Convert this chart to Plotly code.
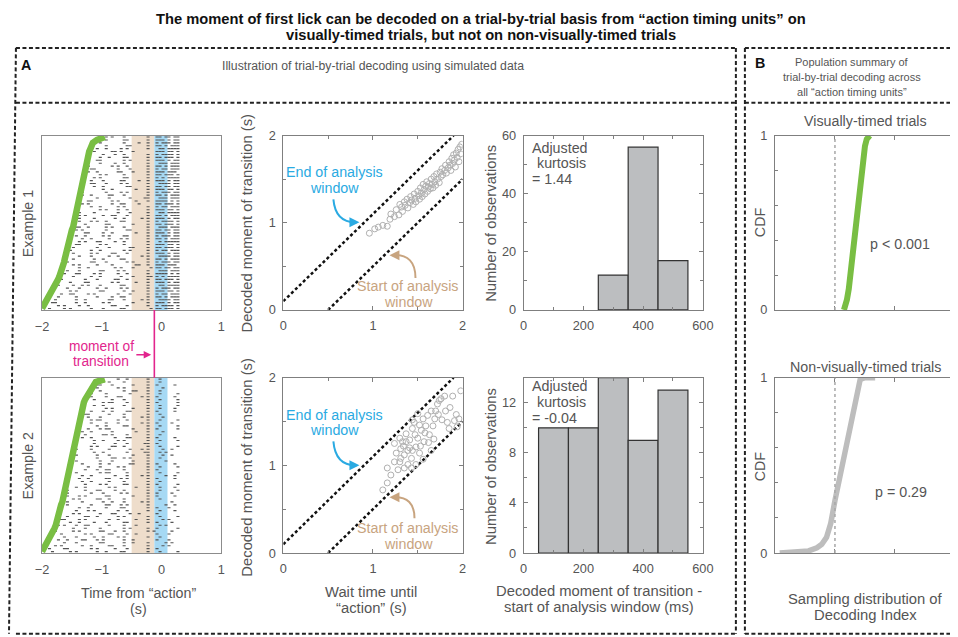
import plotly.graph_objects as go

W, H = 958, 637
# the photographed page shows the figure slightly reduced and shifted; positions below are
# given in picture pixels and mapped back into figure space
SC, X0, Y0 = 0.98, 14.0, 13.0
FONT = "Liberation Sans, Arial, Helvetica, sans-serif"
TXT = "#555555"
AX = "#7f7f7f"
GREEN = "#79BE43"
CYAN = "#2AAAE2"
TAN = "#C8A47F"
MAGENTA = "#E2258D"

# ------------------------------------------------------------------ data
transition_time = -0.12      # s, moment of transition (raster)
window_start = -0.5          # s, start of analysis window
window_end = 0.1             # s, end of analysis window
raster_t0 = -2.0
raster_bin = 0.05
ex1_sparse_bins = 38         # bins up to transition region
ex2_bins = 46                # bins up to 0.3 s

# trial onsets (green curve), bottom row first
ex1_onsets = [-2.00, -1.97, -1.94, -1.91, -1.88, -1.85, -1.82, -1.79, -1.77, -1.75,
              -1.73, -1.71, -1.69, -1.68, -1.66, -1.65, -1.63, -1.62, -1.61, -1.59,
              -1.58, -1.57, -1.56, -1.55, -1.53, -1.52, -1.51, -1.50, -1.48, -1.47,
              -1.46, -1.45, -1.44, -1.43, -1.43, -1.42, -1.41, -1.40, -1.39, -1.38,
              -1.37, -1.36, -1.35, -1.34, -1.32, -1.31, -1.30, -1.29, -1.28, -1.27,
              -1.26, -1.25, -1.24, -1.23, -1.21, -1.19, -1.17, -1.15, -1.08, -0.95]
ex2_onsets = [-2.00, -1.97, -1.94, -1.91, -1.88, -1.85, -1.83, -1.81, -1.79, -1.77,
              -1.76, -1.74, -1.73, -1.71, -1.70, -1.69, -1.68, -1.66, -1.65, -1.64,
              -1.63, -1.62, -1.61, -1.60, -1.59, -1.58, -1.57, -1.56, -1.55, -1.54,
              -1.53, -1.52, -1.51, -1.50, -1.49, -1.48, -1.47, -1.46, -1.45, -1.44,
              -1.43, -1.42, -1.41, -1.40, -1.39, -1.38, -1.37, -1.36, -1.35, -1.34,
              -1.32, -1.30, -1.28, -1.25, -1.23, -1.20, -1.17, -1.14, -1.10, -0.95]

# spike trains: each digit = gap (in bins) to the next spike
ex1_sparse_gaps = [
    "35274619", "62538147", "41736285", "57381462", "24675318", "73152846",
    "46281735", "18463527", "65324718", "37518264", "52846137", "29637451",
    "84152637", "36471528", "51739246", "47265813", "63814725", "25473618",
    "71546382", "38625147", "54173826", "26384715", "43517268", "67241538",
    "15836427", "48362517", "62715384", "34528716", "57136248", "23647185",
    "76423518", "41857362", "58263147", "32715846", "65182437", "17453628",
    "44628315", "53817264", "28364751", "72536148", "36148527", "51627384",
    "45273816", "68314527", "27846153", "53462817", "14735268", "62837145",
    "37251846", "46518237", "21674538", "75341826", "42863517", "56127438",
    "33756124", "61483527", "24358716", "47126853", "58342617", "35617248"]
# dense firing after the transition (bins -0.1 .. 0.3 s), x = spike
ex1_dense_bins = [
    "xx.xxx.x", "x.xxxx.x", "xxx.x.xx", ".xxxx.xx", "xx.x.xxx", "x.xx.xxx",
    "xxx.xx.x", "x.xxx.xx", ".xx.xxxx", "xxx.x.xx", "xx.xxx.x", "x.x.xxxx",
    "xxxx.x.x", ".xxx.xxx", "xx.xx.xx", "xxx.xxx.", "x.xxx.xx", "xx.x.xxx",
    ".xxxx.xx", "xxx.x.xx", "x.xx.xxx", "xx.xxx.x", "xxx.xx.x", ".x.xxxxx",
    "xx.x.xxx", "x.xxx.xx", "xxx.x.xx", "xx.xx.xx", ".xxx.xxx", "xx.xxx.x",
    "x.xxxx.x", "xxx.x.xx", "xx.x.xxx", ".xx.xxxx", "xxx.xx.x", "x.xx.xxx",
    "xx.xxx.x", "xxxx.x.x", ".xxx.xxx", "xx.x.xxx", "x.xxx.xx", "xxx.xx.x",
    "xx.xx.xx", ".xxxx.xx", "xxx.x.xx", "x.x.xxxx", "xx.xxx.x", "xxx.xxx.",
    "x.xx.xxx", "xx.x.xxx", ".xxx.xxx", "xxx.x.xx", "xx.xxx.x", "x.xxxx.x",
    "xxx.xx.x", ".xx.xxxx", "xx.x.xxx", "x.xxx.xx", "xxx.x.xx", "xx.xx.xx"]
ex2_gaps = [
    "4627351846", "3518264739", "5273614852", "2648173562", "6351427384",
    "1746352847", "4382615374", "5627143826", "3174582637", "6243175482",
    "2835461735", "7152836452", "4561372846", "3827415368", "5164283745",
    "2473651834", "6385142763", "1857346284", "4726135847", "3642718536",
    "5318462735", "2764153846", "6153827445", "3485261737", "4217365848",
    "5836142736", "1673845263", "4358216746", "7264315838", "3517462846",
    "2846371536", "6132847565", "4785132647", "3261748553", "5427386142",
    "1835674253", "6472513846", "2358746138", "4617352846", "5273841636",
    "3846125747", "2165378456", "6734218537", "4528361746", "1376548235",
    "5842163746", "3157486256", "6423175847", "2784351636", "4316827545",
    "5261437846", "3648215737", "1527364846", "6385417236", "4213758646",
    "2756831447", "5134672856", "3862147536", "4671325848", "2548163747"]

# decoded moment vs wait time
sc1_wait = [0.96, 1.02, 1.06, 1.11, 1.16, 1.19, 1.20, 1.24, 1.26, 1.29, 1.30, 1.32, 1.33,
            1.35, 1.36, 1.38, 1.39, 1.41, 1.42, 1.43, 1.45, 1.46, 1.47, 1.48, 1.50, 1.51,
            1.52, 1.53, 1.54, 1.55, 1.56, 1.57, 1.58, 1.59, 1.60, 1.61, 1.62, 1.63, 1.64,
            1.65, 1.66, 1.67, 1.68, 1.69, 1.70, 1.71, 1.72, 1.74, 1.75, 1.76, 1.77, 1.78,
            1.80, 1.81, 1.82, 1.84, 1.85, 1.86, 1.87, 1.88, 1.89, 1.90, 1.91, 1.92, 1.93,
            1.94, 1.95, 1.96, 1.97, 1.98, 1.99]
sc1_decoded = [0.88, 0.93, 0.95, 0.97, 0.96, 1.04, 1.10, 1.07, 1.15, 1.09, 1.21, 1.18, 1.13,
               1.24, 1.20, 1.27, 1.17, 1.23, 1.30, 1.26, 1.21, 1.33, 1.28, 1.24, 1.36, 1.31,
               1.27, 1.40, 1.34, 1.30, 1.44, 1.38, 1.33, 1.42, 1.47, 1.36, 1.41, 1.45, 1.39,
               1.50, 1.44, 1.40, 1.53, 1.47, 1.43, 1.56, 1.50, 1.46, 1.58, 1.53, 1.62, 1.55,
               1.60, 1.66, 1.57, 1.63, 1.70, 1.66, 1.60, 1.74, 1.68, 1.78, 1.72, 1.64, 1.80,
               1.75, 1.84, 1.70, 1.87, 1.79, 1.90]
sc2_wait = [1.11, 1.16, 1.16, 1.20, 1.24, 1.28, 1.26, 1.31, 1.30, 1.35, 1.33, 1.37, 1.39,
            1.43, 1.41, 1.44, 1.46, 1.48, 1.50, 1.52, 1.54, 1.56, 1.57, 1.59, 1.61, 1.63,
            1.65, 1.67, 1.69, 1.70, 1.72, 1.74, 1.76, 1.80, 1.81, 1.83, 1.85, 1.89, 1.91,
            1.94, 1.98, 1.93, 1.65, 1.50, 1.44, 1.37, 1.30, 1.24, 1.44, 1.35, 1.56, 1.48,
            1.43, 1.39, 1.31, 1.52, 1.58, 1.62, 1.47, 1.41, 1.34, 1.53, 1.77, 1.73, 1.86,
            1.96, 1.68]
sc2_decoded = [0.72, 0.80, 0.97, 0.89, 1.04, 0.95, 1.14, 1.19, 1.04, 0.97, 1.27, 1.36, 1.17,
               1.08, 1.29, 1.42, 1.49, 1.21, 1.31, 1.14, 1.40, 1.53, 1.27, 1.45, 1.57, 1.35,
               1.17, 1.45, 1.53, 1.62, 1.70, 1.74, 1.76, 1.79, 1.62, 1.49, 1.42, 1.79, 1.51,
               1.44, 1.85, 1.58, 1.62, 1.59, 1.52, 1.27, 1.31, 1.25, 1.17, 1.12, 1.07, 1.01,
               0.97, 1.01, 1.08, 1.46, 1.37, 1.26, 1.35, 1.20, 1.22, 1.22, 1.52, 1.58, 1.66,
               1.53, 1.30]

# histograms (ms from start of window)
hist_bin_width = 100
hist1_centers = [300, 400, 500]
hist1_counts = [12, 56, 17]
hist2_centers = [100, 200, 300, 400, 500]
hist2_counts = [10, 10, 14, 9, 13]
kurtosis = ["1.44", "-0.04"]

# population CDFs of decoding index
cdf_vis_x = [1.15, 1.17, 1.20, 1.23, 1.255, 1.29, 1.32, 1.35, 1.38, 1.41, 1.44, 1.47, 1.50, 1.53, 1.58]
cdf_vis_y = [0, 0.02, 0.06, 0.12, 0.2, 0.3, 0.4, 0.5, 0.6, 0.7, 0.8, 0.88, 0.94, 0.98, 1.0]
cdf_non_x = [0.08, 0.3, 0.56, 0.70, 0.78, 0.86, 0.93, 1.0, 1.06, 1.12, 1.2, 1.28, 1.33, 1.37, 1.42, 1.5, 1.67]
cdf_non_y = [0, 0.005, 0.012, 0.03, 0.05, 0.09, 0.17, 0.3, 0.4, 0.5, 0.62, 0.78, 0.87, 0.94, 0.99, 1.0, 1.0]
chance_index = 1.0
p_values = ["p < 0.001", "p = 0.29"]


# ------------------------------------------------------------------ helpers
def fx(p):
    return ((p - X0) / SC) / W


def fy(p):
    return 1 - ((p - Y0) / SC) / H


def fs(s):
    return s / SC


def clamp(v):
    return max(0.0, min(1.0, v))


def sid(n):
    return "" if n == 1 else str(n)


def raster_points(onsets, gaps, n_bins, dense=None):
    xs, ys = [], []
    for i, onset in enumerate(onsets):
        pos = -1
        for d in gaps[i]:
            pos += int(d)
            if pos >= n_bins:
                break
            t = raster_t0 + raster_bin * pos + raster_bin / 2
            if t > onset:
                xs.append(t)
                ys.append(i + 0.5)
        if dense is not None:
            for k, c in enumerate(dense[i]):
                if c == "x":
                    xs.append(raster_t0 + raster_bin * (n_bins + k) + raster_bin / 2)
                    ys.append(i + 0.5)
    return xs, ys


fig = go.Figure()

# rasters
r1x, r1y = raster_points(ex1_onsets, ex1_sparse_gaps, ex1_sparse_bins, ex1_dense_bins)
r2x, r2y = raster_points(ex2_onsets, ex2_gaps, ex2_bins)
for n, (rx, ry, ons) in enumerate([(r1x, r1y, ex1_onsets), (r2x, r2y, ex2_onsets)], start=1):
    fig.add_trace(go.Scatter(x=rx, y=ry, mode="markers", xaxis="x" + sid(n), yaxis="y" + sid(n),
                             marker=dict(symbol="line-ew", size=2.2,
                                         line=dict(width=1.1, color="#555555"))))
    fig.add_trace(go.Scatter(x=ons, y=[i + 0.5 for i in range(len(ons))], mode="lines",
                             xaxis="x" + sid(n), yaxis="y" + sid(n), cliponaxis=False,
                             line=dict(color=GREEN, width=6.5)))

# scatters with analysis-window lines
for n, (wx, dy) in zip([3, 4], [(sc1_wait, sc1_decoded), (sc2_wait, sc2_decoded)]):
    fig.add_trace(go.Scatter(x=[0, 2 - window_end], y=[window_end, 2], mode="lines",
                             xaxis=f"x{n}", yaxis=f"y{n}",
                             line=dict(color="#111111", width=2.5, dash="3px,2.5px")))
    fig.add_trace(go.Scatter(x=[-window_start, 2], y=[0, 2 + window_start], mode="lines",
                             xaxis=f"x{n}", yaxis=f"y{n}",
                             line=dict(color="#111111", width=2.5, dash="3px,2.5px")))
    fig.add_trace(go.Scatter(x=wx, y=dy, mode="markers", xaxis=f"x{n}", yaxis=f"y{n}",
                             marker=dict(symbol="circle-open", size=6,
                                         color="#b0b0b0", line=dict(width=1))))

# histograms
for n, (cx, cnt) in zip([5, 6], [(hist1_centers, hist1_counts), (hist2_centers, hist2_counts)]):
    fig.add_trace(go.Bar(x=cx, y=cnt, width=[hist_bin_width] * len(cx),
                         xaxis=f"x{n}", yaxis=f"y{n}",
                         marker=dict(color="#BCBEC0", line=dict(color="#333333", width=1.2))))

# CDFs
fig.add_trace(go.Scatter(x=cdf_vis_x, y=cdf_vis_y, mode="lines", xaxis="x7", yaxis="y7",
                         cliponaxis=False, line=dict(color=GREEN, width=6)))
fig.add_trace(go.Scatter(x=cdf_non_x, y=cdf_non_y, mode="lines", xaxis="x8", yaxis="y8",
                         cliponaxis=False, line=dict(color="#BDBDBD", width=5.5)))

# ------------------------------------------------------------------ axes
ROW1 = (133, 308)
ROW2 = (376, 552)
COLS = {"r": (41, 220), "s": (282, 461), "h": (522, 701), "c": (773, 953)}


def axis(dom, rng, horizontal, **kw):
    if horizontal:
        d = [clamp(fx(dom[0])), clamp(fx(dom[1]))]
    else:
        d = [clamp(fy(dom[1])), clamp(fy(dom[0]))]
    base = dict(domain=d, range=rng, showline=True, linecolor=AX, linewidth=1,
                mirror="ticks", ticks="inside", ticklen=4, tickcolor=AX,
                tickfont=dict(family=FONT, size=fs(12.5), color=TXT), showgrid=False,
                zeroline=False, fixedrange=True)
    base.update(kw)
    return base


def minor(dt):
    return dict(dtick=dt, ticks="inside", ticklen=3, tickcolor=AX, showgrid=False)


layout_axes = {}
for n, row in [(1, ROW1), (2, ROW2)]:
    layout_axes["xaxis" + sid(n)] = axis(COLS["r"], [-2, 1], True, anchor="y" + sid(n),
                                         tickvals=[-2, -1, 0, 1], ticks="", mirror=True,
                                         linecolor="#8c8c8c", ticklabelstandoff=5)
    layout_axes["yaxis" + sid(n)] = axis(row, [0, len(ex1_onsets)], False, anchor="x" + sid(n),
                                         showticklabels=False, ticks="", mirror=True,
                                         linecolor="#8c8c8c")
for n, row in [(3, ROW1), (4, ROW2)]:
    layout_axes[f"xaxis{n}"] = axis(COLS["s"], [0, 2], True, anchor=f"y{n}",
                                    dtick=1, minor=minor(0.5), ticklabelstandoff=4)
    layout_axes[f"yaxis{n}"] = axis(row, [0, 2], False, anchor=f"x{n}",
                                    dtick=1, minor=minor(0.5), ticklabelstandoff=4)
for n, row, yr, yt in [(5, ROW1, [0, 60], [0, 20, 40, 60]), (6, ROW2, [0, 14], [0, 4, 8, 12])]:
    layout_axes[f"xaxis{n}"] = axis(COLS["h"], [0, 600], True, anchor=f"y{n}",
                                    tickvals=[0, 200, 400, 600], minor=minor(100),
                                    ticklabelstandoff=4)
    layout_axes[f"yaxis{n}"] = axis(row, yr, False, anchor=f"x{n}", tickvals=yt,
                                    minor=minor(yt[1] / 2), ticklabelstandoff=4)
for n, row in [(7, ROW1), (8, ROW2)]:
    layout_axes[f"xaxis{n}"] = axis(COLS["c"], [0, 3], True, anchor=f"y{n}",
                                    tickvals=[1, 2], showticklabels=False)
    layout_axes[f"yaxis{n}"] = axis(row, [0, 1], False, anchor=f"x{n}", tickvals=[0, 1],
                                    minor=minor(0.2), ticklabelstandoff=4)

# ------------------------------------------------------------------ shapes
shapes = []
DASH = dict(color="#222222", width=2, dash="4px,2.5px")


def pline(x0, y0, x1, y1):
    shapes.append(dict(type="line", xref="paper", yref="paper",
                       x0=max(fx(x0), 0.001), x1=min(fx(x1), 0.999),
                       y0=max(fy(y0), 0.001), y1=max(fy(y1), 0.001), line=DASH))


for y in (45, 100, 633):
    pline(8, y, 734, y)
    pline(743, y, 970, y)
pline(8, 45, 8, 633)
pline(734, 45, 734, 633)
pline(743, 45, 743, 633)

for n in (1, 2):
    shapes.append(dict(type="rect", xref="x" + sid(n), yref="y" + sid(n) + " domain",
                       x0=window_start, x1=transition_time, y0=0, y1=1, fillcolor="#EEDDCB",
                       line=dict(width=0), layer="below"))
    shapes.append(dict(type="rect", xref="x" + sid(n), yref="y" + sid(n) + " domain",
                       x0=transition_time, x1=window_end, y0=0, y1=1, fillcolor="#A6D9F4",
                       line=dict(width=0), layer="below"))
shapes.append(dict(type="line", xref="x", yref="paper", x0=transition_time, x1=transition_time,
                   y0=fy(308), y1=fy(376), line=dict(color=MAGENTA, width=1.6)))
for n in (7, 8):
    shapes.append(dict(type="line", xref=f"x{n}", yref=f"y{n} domain", x0=chance_index,
                       x1=chance_index, y0=0, y1=1,
                       line=dict(color="#a8a8a8", width=1.5, dash="dot")))


def curve(p0, c, p1, color):
    shapes.append(dict(type="path", xref="paper", yref="paper",
                       path=f"M {fx(p0[0])},{fy(p0[1])} Q {fx(c[0])},{fy(c[1])} {fx(p1[0])},{fy(p1[1])}",
                       line=dict(color=color, width=2)))


curve((332, 197), (334, 220), (354, 220), CYAN)
curve((414, 276), (414, 252), (392, 253), TAN)
curve((332, 440), (334, 464), (354, 464), CYAN)
curve((413, 517), (413, 495), (392, 496), TAN)

# ------------------------------------------------------------------ text
ann = []


def T(x, y, s, size=14, color=TXT, angle=0, bold=False, xanchor="center"):
    ann.append(dict(x=fx(x), y=fy(y), xref="paper", yref="paper",
                    text=f"<b>{s}</b>" if bold else s, showarrow=False,
                    font=dict(family=FONT, size=fs(size), color=color), textangle=angle,
                    xanchor=xanchor, yanchor="middle"))


def ARROW(x, y, ax, ay, color, width=2):
    ann.append(dict(x=fx(x), y=fy(y), xref="paper", yref="paper", text="", showarrow=True,
                    ax=ax / SC, ay=ay / SC, arrowhead=2, arrowsize=1, arrowwidth=width,
                    arrowcolor=color, standoff=0, startstandoff=0))


T(479, 16, "The moment of first lick can be decoded on a trial-by-trial basis from “action timing units” on",
  14.4, "#111111", bold=True)
T(479, 32, "visually-timed trials, but not on non-visually-timed trials", 14.4, "#111111", bold=True)
T(25, 62, "A", 14, "#111111", bold=True)
T(758, 60, "B", 14, "#111111", bold=True)
T(372, 63, "Illustration of trial-by-trial decoding using simulated data", 12)
T(850, 59, "Population summary of", 10.8)
T(850, 74, "trial-by-trial decoding across", 10.8)
T(850, 89, "all “action timing units”", 10.8)

T(27, 222, "Example 1", 14, angle=-90)
T(27, 465, "Example 2", 14, angle=-90)
T(100, 345, "moment of", 13.5, MAGENTA)
T(100, 360, "transition", 13.5, MAGENTA)
ARROW(150, 353, -16, 0, MAGENTA, 1.5)
T(137, 592, "Time from “action”", 14)
T(137, 608, "(s)", 14)

for yoff in [0, 243]:
    T(333, 170 + yoff, "End of analysis", 14, CYAN)
    T(333, 186 + yoff, "window", 14, CYAN)
    T(407, 284 + yoff, "Start of analysis", 14, TAN)
    T(407, 300 + yoff, "window", 14, TAN)
ARROW(358, 220, -8, 0, CYAN)
ARROW(388, 253, 8, 0, TAN)
ARROW(358, 464, -8, 0, CYAN)
ARROW(388, 496, 8, 0, TAN)
T(246, 221, "Decoded moment of transition (s)", 14.5, angle=-90)
T(246, 466, "Decoded moment of transition (s)", 14.5, angle=-90)
T(370, 591, "Wait time until", 14.5)
T(370, 607, "“action” (s)", 14.5)

T(490, 221, "Number of observations", 14.5, angle=-90)
T(490, 465, "Number of observations", 14.5, angle=-90)
for y0, k in zip([145, 384], kurtosis):
    T(528, y0, "Adjusted", 14, xanchor="left")
    T(533, y0 + 16, "kurtosis", 14, xanchor="left")
    T(528, y0 + 32, "= " + k, 14, xanchor="left")
T(597, 590, "Decoded moment of transition -", 14.5)
T(597, 606, "start of analysis window (ms)", 14.5)

T(863, 118, "Visually-timed trials", 14)
T(863, 365, "Non-visually-timed trials", 14)
T(758, 220, "CDF", 14, angle=-90)
T(758, 465, "CDF", 14, angle=-90)
T(898, 242, p_values[0], 14)
T(899, 491, p_values[1], 14)
T(863, 598, "Sampling distribution of", 14.5)
T(863, 614, "Decoding Index", 14.5)

fig.update_layout(width=W, height=H, margin=dict(l=0, r=0, t=0, b=0),
                  paper_bgcolor="white", plot_bgcolor="white", showlegend=False,
                  hovermode=False, shapes=shapes, annotations=ann,
                  font=dict(family=FONT, color=TXT), **layout_axes)

fig.write_html("out.html")
